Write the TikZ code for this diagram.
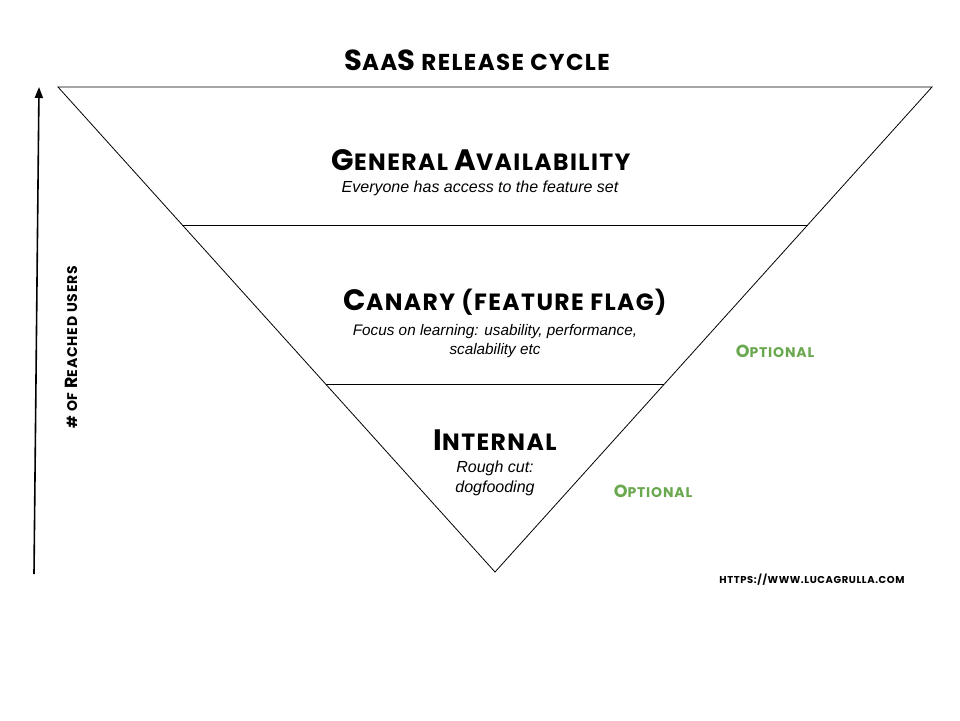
\documentclass[tikz,border=0pt]{standalone}
\usepackage{fontspec}
\setmainfont{Liberation Sans}
\newfontfamily\marker[LetterSpace=6]{Poppins}
\usetikzlibrary{arrows.meta,calc}
\definecolor{optgreen}{HTML}{6AA84F}
\def\capsize{26}
\newcommand\Cp[1]{{\fontsize{\capsize}{\capsize}\selectfont #1}}
\tikzset{
  edge/.style={draw=black, line width=0.8pt},
  axisline/.style={draw=black, line width=1.6pt, -{Triangle[length=11pt,width=8pt]}},
  titletext/.style={font=\def\capsize{29}\marker\bfseries\fontsize{23}{23}\selectfont, inner sep=0pt},
  hd/.style={font=\def\capsize{29.5}\marker\bfseries\fontsize{23.5}{23.5}\selectfont, inner sep=0pt},
  sub/.style={font=\itshape\fontsize{16}{20}\selectfont, align=center, inner sep=0pt},
  opt/.style={font=\def\capsize{17.5}\marker\bfseries\fontsize{14}{14}\selectfont, text=optgreen, inner sep=0pt},
  small/.style={font=\def\capsize{17.5}\marker\bfseries\fontsize{14}{14}\selectfont, inner sep=0pt},
  url/.style={font=\marker\bfseries\fontsize{10}{10}\selectfont, inner sep=0pt},
}
\begin{document}
\begin{tikzpicture}[x=1pt,y=-1pt]
\useasboundingbox (0,0) rectangle (960,720);
\fill[white] (0,0) rectangle (960,720);
% title
\node[titletext] (title) at (477,60) {\Cp{S}AA\Cp{S} RELEASE CYCLE};
% triangle
\coordinate (TL) at (58,87);
\coordinate (TR) at (932,87);
\coordinate (B) at (495,572);
\draw[edge] (TL) -- (TR) -- (B) -- cycle;
\coordinate (L1l) at (182.3,225);
\coordinate (L1r) at (807.7,225);
\coordinate (L2l) at (325.6,384);
\coordinate (L2r) at (664.4,384);
\draw[edge] (L1l) -- (L1r);
\draw[edge] (L2l) -- (L2r);
% axis
\coordinate (ax0) at (34,574);
\coordinate (ax1) at (39,87);
\draw[axisline] (ax0) -- (ax1);
\node[small, rotate=90] (axlabel) at (71,347) {\# OF \Cp{R}EACHED USERS};
% sections
\node[hd] (ga) at (481,160) {\Cp{G}ENERAL \Cp{A}VAILABILITY};
\node[sub] (gasub) at (480,188) {Everyone has access to the feature set};
\node[hd] (canary) at (505,302) {\Cp{C}ANARY (FEATURE FLAG)};
\node[sub, font=\itshape\fontsize{15.3}{19}\selectfont] (canarysub) at (495,341) {Focus on learning: usability, performance,\\scalability etc};
\node[hd] (internal) at (495,440) {\Cp{I}NTERNAL};
\node[sub] (internalsub) at (495,478) {Rough cut:\\dogfooding};
% optional
\node[opt] (opt1) at (775,351) {\Cp{O}PTIONAL};
\node[opt] (opt2) at (653,491) {\Cp{O}PTIONAL};
% url
\node[url] (url) at (812,580) {HTTPS://WWW.LUCAGRULLA.COM};
\end{tikzpicture}
\end{document}
